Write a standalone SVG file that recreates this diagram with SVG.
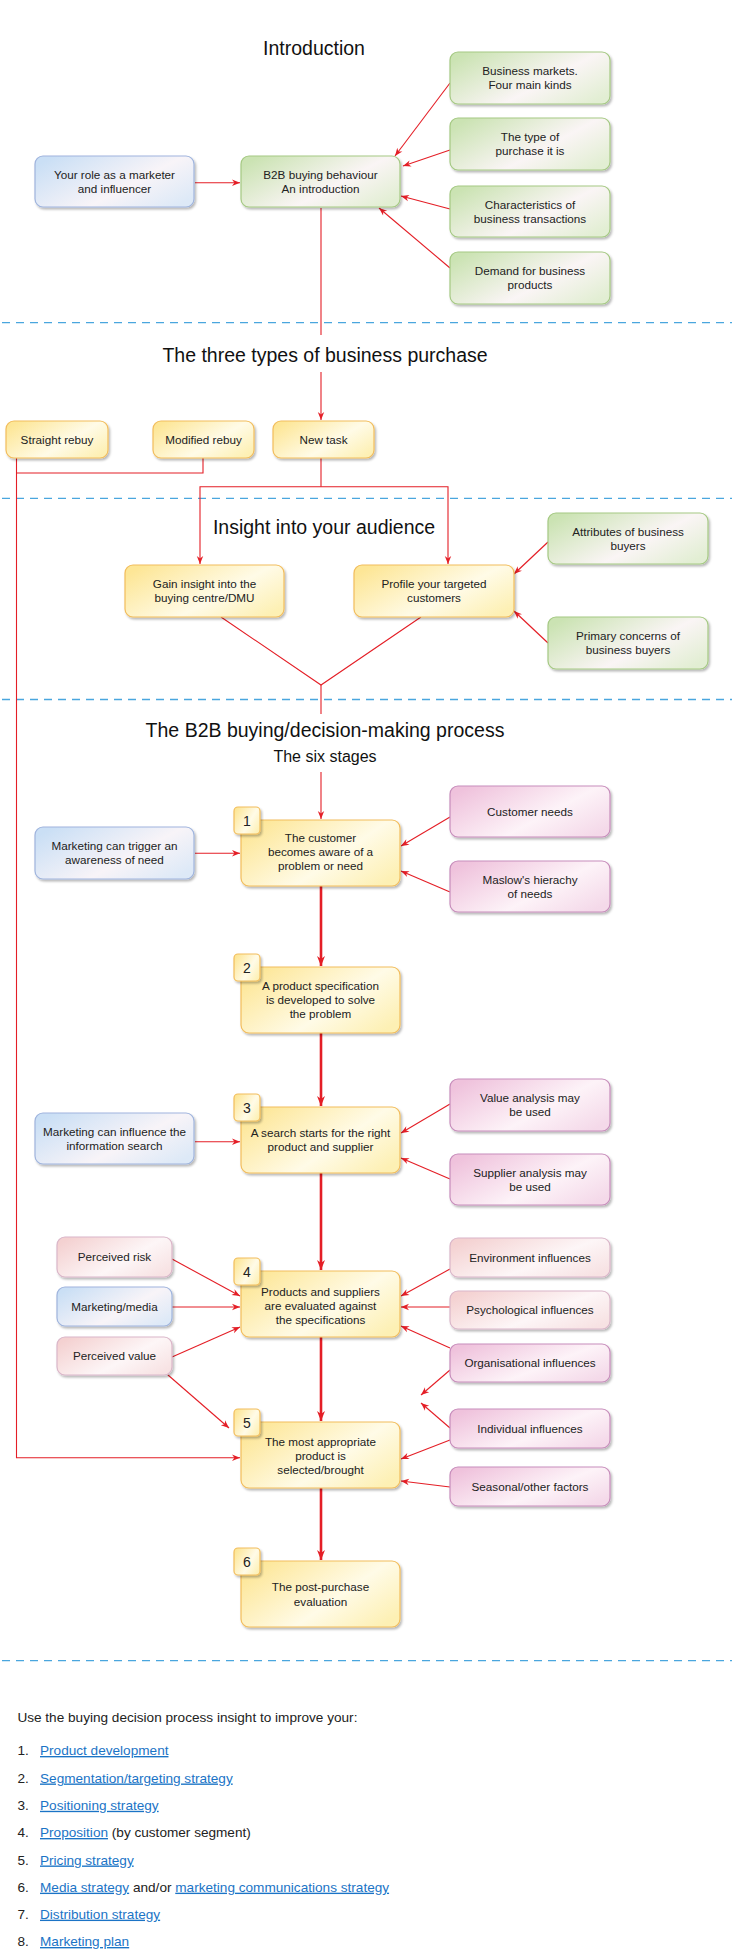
<svg xmlns="http://www.w3.org/2000/svg" width="734" height="1950" viewBox="0 0 734 1950">
<style>
text{font-family:"Liberation Sans",Arial,sans-serif;fill:#222}
.t{font-size:11.7px;text-anchor:middle}
.h{font-size:19.5px;text-anchor:middle;fill:#111}
.sub{font-size:16px;text-anchor:middle;fill:#111}
.num{font-size:14px;text-anchor:middle}
.g{fill:url(#gG);stroke:#a5c983;stroke-width:1.2}
.y{fill:url(#gY);stroke:#f2bd5c;stroke-width:1.2}
.p{fill:url(#gP);stroke:#c78dbb;stroke-width:1.2}
.pe{fill:url(#gE);stroke:#dab6c9;stroke-width:1.2}
.b{fill:url(#gB);stroke:#9fb4dd;stroke-width:1.2}
.sh{filter:url(#sh)}
.c{fill:none;stroke:#e41e26;stroke-width:1.1}
.ca{fill:none;stroke:#e41e26;stroke-width:1.1;marker-end:url(#a)}
.ck{fill:none;stroke:#e41e26;stroke-width:2.6;marker-end:url(#ak)}
.d{stroke:#4aa6de;stroke-width:1.3;stroke-dasharray:8 6}
.li{font-size:13.6px}
.lk{fill:#1b74c6;text-decoration:underline}
</style>
<defs>
<filter id="sh" x="-10%" y="-10%" width="125%" height="135%">
<feDropShadow dx="1.5" dy="2" stdDeviation="1.3" flood-color="#000" flood-opacity="0.28"/>
</filter>
<linearGradient id="gG" x1="0" y1="0.2" x2="1" y2="0.8"><stop offset="0" stop-color="#cbe3b3"/><stop offset="0.6" stop-color="#faf5f5"/><stop offset="1" stop-color="#e2eed3"/></linearGradient>
<linearGradient id="gY" x1="0" y1="0.2" x2="1" y2="0.8"><stop offset="0" stop-color="#fde696"/><stop offset="0.6" stop-color="#fffbe7"/><stop offset="1" stop-color="#fdf0b4"/></linearGradient>
<linearGradient id="gP" x1="0" y1="0.2" x2="1" y2="0.8"><stop offset="0" stop-color="#efc2dc"/><stop offset="0.6" stop-color="#fdf3f8"/><stop offset="1" stop-color="#f4d9e9"/></linearGradient>
<linearGradient id="gE" x1="0" y1="0.2" x2="1" y2="0.8"><stop offset="0" stop-color="#f4d1d1"/><stop offset="0.6" stop-color="#fdf6f7"/><stop offset="1" stop-color="#f7e2e3"/></linearGradient>
<linearGradient id="gB" x1="0" y1="0.2" x2="1" y2="0.8"><stop offset="0" stop-color="#cadff5"/><stop offset="0.6" stop-color="#f8f4f8"/><stop offset="1" stop-color="#dde9f7"/></linearGradient>
<marker id="a" viewBox="0 0 10 10" refX="10" refY="5" markerWidth="9" markerHeight="8" orient="auto" markerUnits="userSpaceOnUse"><path d="M0,1 L10,5 L0,9 L3,5 z" fill="#e41e26"/></marker>
<marker id="ak" viewBox="0 0 10 10" refX="10" refY="5" markerWidth="12" markerHeight="10" orient="auto" markerUnits="userSpaceOnUse"><path d="M0,1 L10,5 L0,9 L3,5 z" fill="#e41e26"/></marker>
</defs>

<g id="dividers">
<line class="d" x1="2" y1="322.7" x2="732" y2="322.7"/>
<line class="d" x1="2" y1="498.3" x2="732" y2="498.3"/>
<line class="d" x1="2" y1="699.5" x2="732" y2="699.5"/>
<line class="d" x1="2" y1="1660.7" x2="732" y2="1660.7"/>
</g>

<g id="connectors">
<path class="ca" d="M195,182.7 H240"/>
<path class="ca" d="M450,83 L395,156"/>
<path class="ca" d="M450,150 L403,166"/>
<path class="ca" d="M450,209 L401,196"/>
<path class="ca" d="M450,268 L379,208"/>
<path class="c" d="M321,208 V335"/>
<path class="ca" d="M321,372 V420"/>
<path class="ca" d="M16.5,458 V1457.7 H240"/>
<path class="c" d="M203,458 V473 H16.5"/>
<path class="c" d="M321,458 V486.7"/>
<path class="ca" d="M321,486.7 H200 V564"/>
<path class="ca" d="M321,486.7 H448 V564"/>
<path class="ca" d="M548,542 L514,574"/>
<path class="ca" d="M548,643 L514,611"/>
<path class="c" d="M221,617 L321,685 L421,617"/>
<path class="c" d="M321,685 V714"/>
<path class="ca" d="M321,772 V819"/>
<path class="ca" d="M195,853.3 H240"/>
<path class="ca" d="M450,817 L401,846"/>
<path class="ca" d="M450,892 L401,871"/>
<path class="ck" d="M321,886 V966"/>
<path class="ck" d="M321,1033 V1106"/>
<path class="ca" d="M195,1141.7 H240"/>
<path class="ca" d="M450,1104 L401,1133"/>
<path class="ca" d="M450,1179 L401,1158"/>
<path class="ck" d="M321,1173 V1270"/>
<path class="ca" d="M172,1259 L240,1296"/>
<path class="ca" d="M172,1307 H240"/>
<path class="ca" d="M172,1357 L240,1327"/>
<path class="ca" d="M168,1375 L229,1428"/>
<path class="ca" d="M450,1269 L401,1296"/>
<path class="ca" d="M450,1307 H401"/>
<path class="ca" d="M450,1348 L401,1326"/>
<path class="ca" d="M450,1370 L421,1395"/>
<path class="ca" d="M450,1428 L421,1403"/>
<path class="ca" d="M450,1440 L401,1459"/>
<path class="ca" d="M450,1487 L401,1481"/>
<path class="ck" d="M321,1337 V1421"/>
<path class="ck" d="M321,1488 V1560"/>
</g>

<g id="titles">
<text class="h" x="314" y="55">Introduction</text>
<text class="h" x="325" y="361.7">The three types of business purchase</text>
<text class="h" x="324" y="534">Insight into your audience</text>
<text class="h" x="325" y="737.3">The B2B buying/decision-making process</text>
<text class="sub" x="325" y="761.7">The six stages</text>
</g>

<g id="n-role"><rect class="b sh" x="35" y="156" width="159" height="51" rx="8"/><text class="t" x="114.5" y="179">Your role as a marketer</text><text class="t" x="114.5" y="193">and influencer</text></g>
<g id="n-b2b"><rect class="g sh" x="241" y="156" width="159" height="51" rx="8"/><text class="t" x="320.5" y="179">B2B buying behaviour</text><text class="t" x="320.5" y="193">An introduction</text></g>
<g id="n-markets"><rect class="g sh" x="450" y="52" width="160" height="52" rx="8"/><text class="t" x="530" y="75">Business markets.</text><text class="t" x="530" y="89">Four main kinds</text></g>
<g id="n-type"><rect class="g sh" x="450" y="118" width="160" height="52" rx="8"/><text class="t" x="530" y="141">The type of</text><text class="t" x="530" y="155">purchase it is</text></g>
<g id="n-char"><rect class="g sh" x="450" y="186" width="160" height="51" rx="8"/><text class="t" x="530" y="208.5">Characteristics of</text><text class="t" x="530" y="222.5">business transactions</text></g>
<g id="n-demand"><rect class="g sh" x="450" y="252" width="160" height="52" rx="8"/><text class="t" x="530" y="275">Demand for business</text><text class="t" x="530" y="289">products</text></g>

<g id="n-straight"><rect class="y sh" x="6" y="421" width="102" height="37" rx="8"/><text class="t" x="57" y="443.5">Straight rebuy</text></g>
<g id="n-modified"><rect class="y sh" x="153" y="421" width="101" height="37" rx="8"/><text class="t" x="203.5" y="443.5">Modified rebuy</text></g>
<g id="n-new"><rect class="y sh" x="273" y="421" width="101" height="37" rx="8"/><text class="t" x="323.5" y="443.5">New task</text></g>

<g id="n-gain"><rect class="y sh" x="125" y="565" width="159" height="52" rx="8"/><text class="t" x="204.5" y="588">Gain insight into the</text><text class="t" x="204.5" y="602">buying centre/DMU</text></g>
<g id="n-profile"><rect class="y sh" x="354" y="565" width="160" height="52" rx="8"/><text class="t" x="434" y="588">Profile your targeted</text><text class="t" x="434" y="602">customers</text></g>
<g id="n-attr"><rect class="g sh" x="548" y="513" width="160" height="51" rx="8"/><text class="t" x="628" y="535.7">Attributes of business</text><text class="t" x="628" y="549.7">buyers</text></g>
<g id="n-primary"><rect class="g sh" x="548" y="617" width="160" height="52" rx="8"/><text class="t" x="628" y="640">Primary concerns of</text><text class="t" x="628" y="654">business buyers</text></g>

<g id="n-s1"><rect class="y sh" x="241" y="820" width="159" height="66" rx="8"/><rect class="y sh" x="234" y="807" width="26" height="27" rx="4"/><text class="num" x="247" y="825.5">1</text><text class="t" x="320.5" y="841.7">The customer</text><text class="t" x="320.5" y="855.7">becomes aware of a</text><text class="t" x="320.5" y="869.7">problem or need</text></g>
<g id="n-trigger"><rect class="b sh" x="35" y="827" width="159" height="52" rx="8"/><text class="t" x="114.5" y="849.7">Marketing can trigger an</text><text class="t" x="114.5" y="863.7">awareness of need</text></g>
<g id="n-needs"><rect class="p sh" x="450" y="786" width="160" height="51" rx="8"/><text class="t" x="530" y="815.7">Customer needs</text></g>
<g id="n-maslow"><rect class="p sh" x="450" y="861" width="160" height="51" rx="8"/><text class="t" x="530" y="883.7">Maslow's hierachy</text><text class="t" x="530" y="897.7">of needs</text></g>

<g id="n-s2"><rect class="y sh" x="241" y="967" width="159" height="66" rx="8"/><rect class="y sh" x="234" y="954" width="26" height="27" rx="4"/><text class="num" x="247" y="972.5">2</text><text class="t" x="320.5" y="989.7">A product specification</text><text class="t" x="320.5" y="1003.7">is developed to solve</text><text class="t" x="320.5" y="1017.7">the problem</text></g>

<g id="n-s3"><rect class="y sh" x="241" y="1107" width="159" height="66" rx="8"/><rect class="y sh" x="234" y="1094" width="26" height="27" rx="4"/><text class="num" x="247" y="1112.5">3</text><text class="t" x="320.5" y="1137.3">A search starts for the right</text><text class="t" x="320.5" y="1151.3">product and supplier</text></g>
<g id="n-influence"><rect class="b sh" x="35" y="1113" width="159" height="51" rx="8"/><text class="t" x="114.5" y="1135.7">Marketing can influence the</text><text class="t" x="114.5" y="1149.7">information search</text></g>
<g id="n-value"><rect class="p sh" x="450" y="1079" width="160" height="52" rx="8"/><text class="t" x="530" y="1102">Value analysis may</text><text class="t" x="530" y="1116">be used</text></g>
<g id="n-supplier"><rect class="p sh" x="450" y="1154" width="160" height="51" rx="8"/><text class="t" x="530" y="1176.7">Supplier analysis may</text><text class="t" x="530" y="1190.7">be used</text></g>

<g id="n-s4"><rect class="y sh" x="241" y="1271" width="159" height="66" rx="8"/><rect class="y sh" x="234" y="1258" width="26" height="27" rx="4"/><text class="num" x="247" y="1276.5">4</text><text class="t" x="320.5" y="1295.7">Products and suppliers</text><text class="t" x="320.5" y="1309.7">are evaluated against</text><text class="t" x="320.5" y="1323.7">the specifications</text></g>
<g id="n-risk"><rect class="pe sh" x="57" y="1237" width="115" height="40" rx="8"/><text class="t" x="114.5" y="1261">Perceived risk</text></g>
<g id="n-media"><rect class="b sh" x="57" y="1287" width="115" height="39" rx="8"/><text class="t" x="114.5" y="1310.5">Marketing/media</text></g>
<g id="n-pvalue"><rect class="pe sh" x="57" y="1337" width="115" height="38" rx="8"/><text class="t" x="114.5" y="1360">Perceived value</text></g>
<g id="n-env"><rect class="pe sh" x="450" y="1238" width="160" height="39" rx="8"/><text class="t" x="530" y="1261.5">Environment influences</text></g>
<g id="n-psych"><rect class="pe sh" x="450" y="1291" width="160" height="38" rx="8"/><text class="t" x="530" y="1314">Psychological influences</text></g>
<g id="n-org"><rect class="p sh" x="450" y="1344" width="160" height="38" rx="8"/><text class="t" x="530" y="1367">Organisational influences</text></g>
<g id="n-indiv"><rect class="p sh" x="450" y="1409" width="160" height="39" rx="8"/><text class="t" x="530" y="1432.5">Individual influences</text></g>
<g id="n-season"><rect class="p sh" x="450" y="1467" width="160" height="39" rx="8"/><text class="t" x="530" y="1490.5">Seasonal/other factors</text></g>

<g id="n-s5"><rect class="y sh" x="241" y="1422" width="159" height="66" rx="8"/><rect class="y sh" x="234" y="1409" width="26" height="27" rx="4"/><text class="num" x="247" y="1427.5">5</text><text class="t" x="320.5" y="1445.7">The most appropriate</text><text class="t" x="320.5" y="1459.7">product is</text><text class="t" x="320.5" y="1473.7">selected/brought</text></g>
<g id="n-s6"><rect class="y sh" x="241" y="1561" width="159" height="66" rx="8"/><rect class="y sh" x="234" y="1548" width="26" height="27" rx="4"/><text class="num" x="247" y="1566.5">6</text><text class="t" x="320.5" y="1591.3">The post-purchase</text><text class="t" x="320.5" y="1605.7">evaluation</text></g>

<g id="list">
<text class="li" x="17.4" y="1721.7">Use the buying decision process insight to improve your:</text>
<text class="li" x="17.4" y="1755">1.</text><text class="li" x="40" y="1755"><tspan class="lk">Product development</tspan></text>
<text class="li" x="17.4" y="1782.5">2.</text><text class="li" x="40" y="1782.5"><tspan class="lk">Segmentation/targeting strategy</tspan></text>
<text class="li" x="17.4" y="1809.8">3.</text><text class="li" x="40" y="1809.8"><tspan class="lk">Positioning strategy</tspan></text>
<text class="li" x="17.4" y="1837">4.</text><text class="li" x="40" y="1837"><tspan class="lk">Proposition</tspan> (by customer segment)</text>
<text class="li" x="17.4" y="1864.5">5.</text><text class="li" x="40" y="1864.5"><tspan class="lk">Pricing strategy</tspan></text>
<text class="li" x="17.4" y="1891.7">6.</text><text class="li" x="40" y="1891.7"><tspan class="lk">Media strategy</tspan> and/or <tspan class="lk">marketing communications strategy</tspan></text>
<text class="li" x="17.4" y="1918.7">7.</text><text class="li" x="40" y="1918.7"><tspan class="lk">Distribution strategy</tspan></text>
<text class="li" x="17.4" y="1946">8.</text><text class="li" x="40" y="1946"><tspan class="lk">Marketing plan</tspan></text>
</g>
</svg>
